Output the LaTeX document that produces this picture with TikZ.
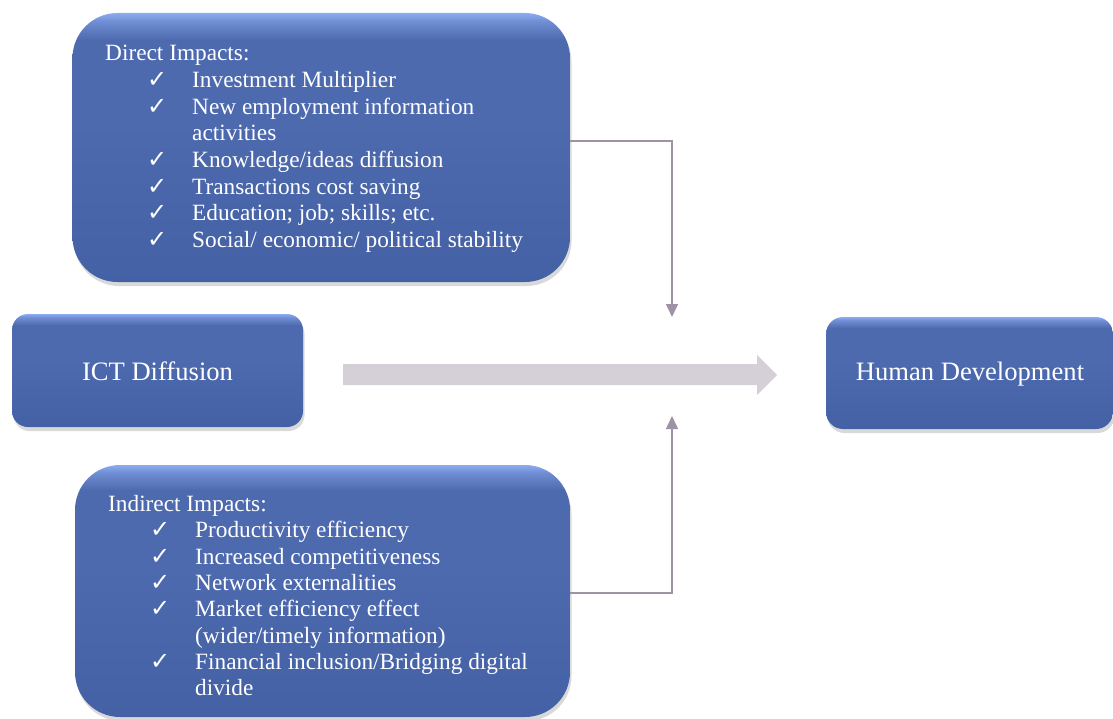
\documentclass[tikz,border=0pt]{standalone}
\usepackage{fontspec}
\setmainfont{Liberation Serif}
\newfontfamily\symf{DejaVu Sans}
\usetikzlibrary{arrows.meta,shadows}
\definecolor{bbot}{HTML}{4461A6}
\definecolor{bmid}{HTML}{4E6AAF}
\definecolor{btop}{HTML}{8CACF2}
\definecolor{conncol}{HTML}{9D92A6}
\definecolor{bigarrow}{HTML}{D5D0D7}
\pgfdeclareverticalshading{boxshade}{100bp}{color(0bp)=(bbot); color(25bp)=(bbot); color(55bp)=(bmid); color(70bp)=(bmid); color(73.5bp)=(btop!55!bmid); color(75bp)=(btop); color(100bp)=(btop)}
\tikzset{
  bluebox/.style={shading=boxshade, draw=none, inner sep=0pt,
    drop shadow={opacity=0.25, shadow xshift=1.5pt, shadow yshift=-4pt, fill=black!60}},
  listtxt/.style={anchor=base west, inner sep=0pt, text=white, font=\fontsize{23.3}{26.5}\selectfont},
  chk/.style={anchor=base west, inner sep=0pt, text=white, font=\symf\fontsize{24}{26}\selectfont},
  bigtxt/.style={text=white, inner sep=0pt, font=\fontsize{26.6}{30}\selectfont},
  conn/.style={draw=conncol, line width=1.5pt, -{Triangle[length=13pt,width=12pt]}},
}
\begin{document}
\begin{tikzpicture}[x=1pt,y=-1pt]
\useasboundingbox (0,0) rectangle (1113,719);
% boxes
\node[bluebox, rounded corners=45pt, minimum width=497.5pt, minimum height=269pt] (direct) at (321.25,147.5) {};
\node[bluebox, rounded corners=45pt, minimum width=495pt, minimum height=252pt] (indirect) at (322.5,591) {};
\node[bluebox, rounded corners=16pt, minimum width=291pt, minimum height=113pt] (ict) at (157.5,370.5) {};
\node[bluebox, rounded corners=17pt, minimum width=287pt, minimum height=112pt] (hd) at (969.5,373) {};
\node[bigtxt] (icttxt) at (157.5,371) {ICT Diffusion};
\node[bigtxt] (hdtxt) at (970,374) {Human Development};
% direct impacts text
\node[listtxt] (dh) at (105,61) {Direct Impacts:};
\foreach \y/\t [count=\i] in {88/{Investment Multiplier}, 115/{New employment information}, 141/{activities}, 168/{Knowledge/ideas diffusion}, 195/{Transactions cost saving}, 221/{Education; job; skills; etc.}, 248/{Social/ economic/ political stability}}{
  \node[listtxt] (d\i) at (192,\y) {\t};
}
\foreach \y [count=\i] in {88,115,168,195,221,248}{
  \node[chk] (dc\i) at (147,\y) {✓};
}
% indirect impacts text
\node[listtxt] (ih) at (108,511) {Indirect Impacts:};
\foreach \y/\t [count=\i] in {537/{Productivity efficiency}, 564/{Increased competitiveness}, 590/{Network externalities}, 616/{Market efficiency effect}, 643/{(wider/timely information)}, 669/{Financial inclusion/Bridging digital}, 695/{divide}}{
  \node[listtxt] (i\i) at (195,\y) {\t};
}
\foreach \y [count=\i] in {537,564,590,616,669}{
  \node[chk] (ic\i) at (150,\y) {✓};
}
% connectors
\coordinate (topin) at (672,317);
\coordinate (botin) at (672,416);
\draw[conn] ([yshift=6.5pt]direct.east) -| (topin);
\draw[conn] ([yshift=-2pt]indirect.east) -| (botin);
% big arrow
\fill[bigarrow] (343,364) -- (757,364) -- (757,355) -- (777,375) -- (757,395) -- (757,385) -- (343,385) -- cycle;
\end{tikzpicture}
\end{document}
